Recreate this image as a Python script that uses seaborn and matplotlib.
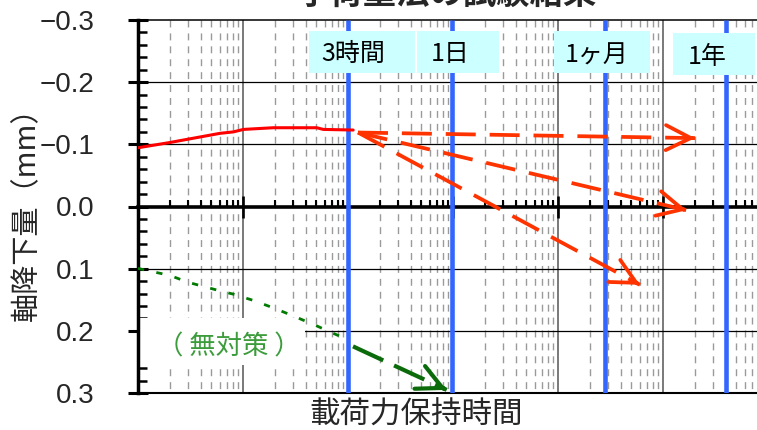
import numpy as np
import matplotlib
matplotlib.use("Agg")
import matplotlib.pyplot as plt
import seaborn as sns
from matplotlib.patches import Rectangle
from matplotlib.ticker import (LogLocator, MultipleLocator, NullFormatter,
                               NullLocator, FixedLocator)

# ---- data -------------------------------------------------------------
# loading-hold time (log axis) and axial settlement (mm, negative = uplift)
t_measured = [1, 2.02, 6.04, 8.08, 10.1, 19.4, 50.3, 58.2, 112]
d_measured = [-0.0945, -0.103, -0.1177, -0.120, -0.124, -0.1267, -0.1267,
              -0.124, -0.123]

# untreated case (無対策)
t_untreated = [1, 2.02, 3.01, 5.82, 8.08, 12.5, 19.4, 30.1, 50.3, 72.4, 97.2]
d_untreated = [0.0996, 0.111, 0.122, 0.135, 0.141, 0.151, 0.163, 0.176,
               0.192, 0.204, 0.2135]

# projected trends after preloading
proj_start = (124.5, -0.119)
proj_end_t = [201800, 168200, 60400]
proj_end_d = [-0.110, 0.006, 0.126]

# projected trend without countermeasure
untreated_arrow = [(111.6, 0.225), (871, 0.295)]

# reference durations
mark_t = [100, 980, 27900, 398000]
mark_labels = ["3時間", "1日", "1ヶ月", "1年"]

y_ticks = [-0.3, -0.2, -0.1, 0.0, 0.1, 0.2, 0.3]
y_ticklabels = ["\u22120.3", "\u22120.2", "\u22120.1", "0.0", "0.1", "0.2", "0.3"]

# ---- style ------------------------------------------------------------
sns.set_style("white")
plt.rcParams["font.family"] = ["Noto Sans CJK JP", "DejaVu Sans"]
plt.rcParams["lines.scale_dashes"] = False

W, H = 757, 430
fig = plt.figure(figsize=(W / 100, H / 100), dpi=100)
ax = fig.add_axes([138 / W, 37 / H, 630 / W, 373 / H])
ax.set_xscale("log")

# curves
sns.lineplot(x=t_measured, y=d_measured, ax=ax, color="#ff0000", lw=2.2,
             sort=False, zorder=6)
sns.lineplot(x=t_untreated, y=d_untreated, ax=ax, color="#007a00", lw=2.0,
             sort=False, zorder=6)
ax.lines[-1].set_dashes([4.5, 9.0])

ax.set_xlim(1, 1e6)
ax.set_ylim(0.3, -0.3)
ax.set_xlabel("")
ax.set_ylabel("")

# ---- grid -------------------------------------------------------------
minor_x = LogLocator(base=10, subs=np.arange(2, 10), numticks=50).tick_values(1, 1e6)
minor_x = [v for v in minor_x if 1 < v < 1e6]
ax.vlines(minor_x, -0.3, 0.3, colors="#9a9a9a", lw=1.0,
          linestyles=[(0, (5, 4.3))], zorder=1)
ax.vlines([1e1, 1e2, 1e3, 1e4, 1e5], -0.3, 0.3, colors="#555555", lw=1.1, zorder=1.2)
ax.hlines([-0.2, -0.1, 0.1, 0.2], 1, 1e6, colors="black", lw=0.9, zorder=1.2)

# ---- axes decoration --------------------------------------------------
ax.xaxis.set_major_locator(NullLocator())
ax.xaxis.set_minor_locator(NullLocator())
ax.set_yticks(y_ticks)
ax.set_yticklabels(y_ticklabels, family=["Liberation Sans", "DejaVu Sans"])
ax.yaxis.set_minor_locator(MultipleLocator(0.02))
ax.tick_params(axis="y", which="major", direction="inout", length=14.4,
               width=2.2, pad=24, labelsize=20, left=True, color="black")
ax.tick_params(axis="y", which="minor", direction="in", length=6.8,
               width=1.8, left=True, color="black")
ax.spines["left"].set_linewidth(2.5)
ax.spines["top"].set_linewidth(1.1)
ax.spines["bottom"].set_linewidth(1.5)
for s in ("left", "top", "bottom"):
    ax.spines[s].set_color("black")
    ax.spines[s].set_zorder(2.5)
ax.spines["right"].set_visible(False)

# zero line with log ticks
zero_ax = ax.secondary_xaxis(0.5)
zero_ax.set_alignment("bottom")
zero_ax.xaxis.set_major_locator(FixedLocator([1e1, 1e2, 1e3, 1e4, 1e5]))
zero_ax.xaxis.set_minor_locator(FixedLocator(minor_x))
zero_ax.xaxis.set_major_formatter(NullFormatter())
zero_ax.xaxis.set_minor_formatter(NullFormatter())
zero_ax.tick_params(which="major", direction="inout", length=16, width=1.9,
                    color="black", bottom=True, top=False)
zero_ax.tick_params(which="minor", direction="in", length=5.2, width=1.5,
                    color="black", bottom=True, top=False)
zero_ax.spines["bottom"].set_linewidth(2.6)
zero_ax.spines["bottom"].set_color("black")
zero_ax.set_zorder(2)

# reference duration lines
ax.vlines(mark_t, -0.3, 0.3, colors="#3366ff", lw=3.3, zorder=3)


def dashed_arrow(p0, p1, color, lw, dash, head_len, head_w):
    ax.plot([p0[0], p1[0]], [p0[1], p1[1]], color=color, lw=lw,
            dashes=dash, solid_capstyle="butt", dash_capstyle="butt", zorder=7)
    a = ax.transData.transform(p0)
    b = ax.transData.transform(p1)
    d = (b - a) / np.hypot(*(b - a))
    ax.annotate("", xy=p1, xytext=(-d[0] * 3, -d[1] * 3), textcoords="offset pixels",
                arrowprops=dict(arrowstyle=f"->,head_length={head_len},head_width={head_w}",
                                color=color, lw=lw, shrinkA=0, shrinkB=0,
                                mutation_scale=1), zorder=7)


for te, de in zip(proj_end_t, proj_end_d):
    dashed_arrow(proj_start, (te, de), "#ff3300", 2.7, [21.6, 10], 18, 9)

dashed_arrow(untreated_arrow[0], untreated_arrow[1], "#0b6b0b", 3.0,
             [24, 8.6], 18, 9)

# ---- labels -----------------------------------------------------------
def fx(px):
    return px / W


def fy(py):
    return 1 - py / H


# white panel behind the untreated label
ax.add_artist(Rectangle((fx(138), fy(365)), (305 - 138) / W, 47 / H,
                        transform=fig.transFigure, fc="white", ec="none",
                        zorder=2.2, clip_on=False))
ax.text(fx(229), fy(347), "（ 無対策 ）", transform=fig.transFigure, ha="center",
        va="center", fontsize=19, color="#3c9c3c", zorder=5)

# boxed duration labels
box_dx = [13.7, 5.9, -2.7, -12.1]
box_w = [106, 82, 96, 82]
box_yc = [52, 52, 52, 54]
text_dx = [5.7, -2.0, -8.0, -19.3]
text_yc = [54, 54, 56, 57]
for t, lab, bdx, bw, byc, tdx, tyc in zip(mark_t, mark_labels, box_dx, box_w,
                                          box_yc, text_dx, text_yc):
    px = ax.transData.transform((t, 0))[0]
    ax.add_artist(Rectangle((fx(px + bdx - bw / 2), fy(byc + 21)), bw / W, 42 / H,
                            transform=fig.transFigure, fc="#ccffff", ec="none",
                            zorder=8, clip_on=False))
    ax.text(fx(px + tdx), fy(tyc), lab, transform=fig.transFigure, ha="center",
            va="center", fontsize=18, color="black", zorder=9)

fig.text(fx(447), fy(4), "予荷重法の試験結果", ha="center", va="baseline",
         fontsize=24, fontweight="bold")
fig.text(fx(416), fy(415.5), "載荷力保持時間", ha="center", va="center", fontsize=22)
fig.text(fx(27.5), fy(207), "軸降下量（mm）", rotation=90, ha="center",
         va="center", fontsize=21)

fig.savefig("out.png", dpi=100)
